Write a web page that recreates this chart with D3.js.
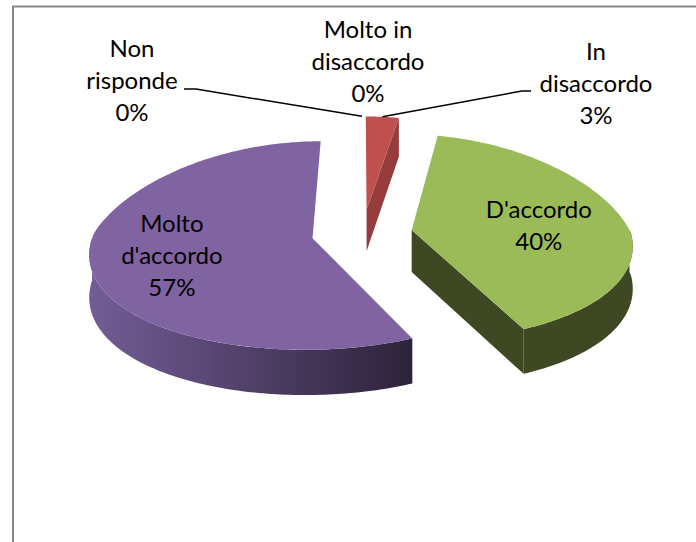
<!DOCTYPE html>
<html>
<head>
<meta charset="utf-8">
<script src="https://cdn.jsdelivr.net/npm/d3@7"></script>
<style>
body { margin: 0; background: #fff; }
svg { display: block; font-family: Lato, "Open Sans", sans-serif; }
</style>
</head>
<body>
<svg width="696" height="542"></svg>
<script>
// data
var categories = ["Molto in disaccordo", "In disaccordo", "D'accordo", "Molto d'accordo", "Non risponde"];
var values = [0, 3, 40, 57, 0];

// styles
var topColors = ["#4f81bd", "#c0504d", "#9bbb59", "#8064a2", "#4bacc6"];
var sideColors = [["#3b6190", "#2c4a6e"], ["#a54441", "#963d3b"], ["#414d25", "#3e4823"], ["#735d96", "#2e233b"], ["#3a8aa0", "#2b6a7c"]];

var width = 696, height = 542;

// 3d view
var cx = 362, cy = 233, rx = 219, ry = 103, depth = 42, explode = 0.23;
var perspFarX = 0.2, perspNearX = 0.13, perspY = 0.07;
var fontSize = 24, lineH = 32;

// outside labels (placed by hand in the original, with leaders)
var outside = {
	"Molto in disaccordo": {x: 368, y: 38, leader: null},
	"Non risponde": {x: 132, y: 57, leader: [[184, 89], [196, 89]]},
	"In disaccordo": {x: 596, y: 60, leader: [[531, 91], [522, 91]]}
};

var svg = d3.select("svg");
var defs = svg.append("defs");

function project(X, Z, h) {
	var px = 1 / (1 - (Z < 0 ? perspFarX : perspNearX) * Z);
	var py = 1 / (1 - perspY * Z);
	return [cx + rx * X * px, cy + ry * Z * py + depth * h * py];
}

var pie = d3.pie().sort(null).value(function(d) { return d; });
var arcs = pie(values);
var total = d3.sum(values);
var pct = d3.format(".0%");

arcs.forEach(function(a, i) {
	var mid = (a.startAngle + a.endAngle) / 2;
	a.i = i;
	a.mid = mid;
	a.ox = explode * Math.sin(mid);
	a.oz = -explode * Math.cos(mid);
});

function pt(a, ang, r, h) {
	return project(a.ox + r * Math.sin(ang), a.oz - r * Math.cos(ang), h);
}

function rim(a, a0, a1, h) {
	var n = Math.max(2, Math.ceil((a1 - a0) / (Math.PI / 180)));
	return d3.range(n + 1).map(function(k) { return pt(a, a0 + (a1 - a0) * k / n, 1, h); });
}

var poly = d3.line().curve(d3.curveLinearClosed);

// far slices first
var drawn = arcs.filter(function(a) { return a.value > 0; })
	.sort(function(a, b) { return a.oz - b.oz; });

var g = svg.append("g");

drawn.forEach(function(a) {
	var gid = "side" + a.i;
	var lg = defs.append("linearGradient").attr("id", gid)
		.attr("gradientUnits", "userSpaceOnUse")
		.attr("x1", cx - rx * 1.25).attr("x2", cx + rx * 0.22).attr("y1", 0).attr("y2", 0);
	lg.append("stop").attr("offset", 0).attr("stop-color", a.i === 3 ? sideColors[a.i][0] : sideColors[a.i][1]);
	lg.append("stop").attr("offset", 1).attr("stop-color", sideColors[a.i][1]);

	var sg = g.append("g");

	// outer wall, front half only
	var s0 = Math.max(a.startAngle, Math.PI / 2), s1 = Math.min(a.endAngle, 3 * Math.PI / 2);
	if (s1 > s0) {
		var topR = rim(a, s0, s1, 0), botR = rim(a, s0, s1, 1).reverse();
		sg.append("path").attr("d", poly(topR.concat(botR))).attr("fill", "url(#" + gid + ")");
	}
	// radial faces that turn towards us
	var faces = [];
	if (Math.sin(a.startAngle) < -1e-6) faces.push(a.startAngle);
	if (Math.sin(a.endAngle) > 1e-6) faces.push(a.endAngle);
	faces.forEach(function(ang) {
		sg.append("path")
			.attr("d", poly([pt(a, ang, 0, 0), pt(a, ang, 1, 0), pt(a, ang, 1, 1), pt(a, ang, 0, 1)]))
			.attr("fill", sideColors[a.i][1]);
	});

	// top face
	var top = [pt(a, 0, 0, 0)].concat(rim(a, a.startAngle, a.endAngle, 0));
	sg.append("path").attr("d", poly(top)).attr("fill", topColors[a.i]);
});

// greedy wrap like the original labels
var measure = svg.append("text").attr("font-size", fontSize).attr("visibility", "hidden");
function wrap(s, maxW) {
	var words = s.split(" "), lines = [], cur = "";
	words.forEach(function(w) {
		var t = cur ? cur + " " + w : w;
		measure.text(t);
		if (cur && measure.node().getComputedTextLength() > maxW) { lines.push(cur); cur = w; }
		else cur = t;
	});
	lines.push(cur);
	return lines;
}

function writeLabel(lines, x, y0) {
	var t = svg.append("text").attr("text-anchor", "middle").attr("font-size", fontSize).attr("fill", "#000");
	lines.forEach(function(l, k) {
		t.append("tspan").attr("x", x).attr("y", y0 + k * lineH).text(l);
	});
}

arcs.forEach(function(a) {
	var lines = wrap(categories[a.i], 125);
	lines.push(pct(a.value / total));
	var o = outside[categories[a.i]];
	if (o) {
		if (o.leader) {
			var end = pt(a, a.mid, 1, 0);
			svg.append("path")
				.attr("d", d3.line()(o.leader.concat([end])))
				.attr("fill", "none").attr("stroke", "#000").attr("stroke-width", 1.5);
		}
		writeLabel(lines, o.x, o.y);
	} else {
		var c = pt(a, a.mid, 0.62, 0);
		writeLabel(lines, c[0] - 4, c[1] - (lines.length - 1) * lineH / 2 + fontSize * 0.5);
	}
});
measure.remove();

// chart area border (cut off at right and bottom)
svg.append("path")
	.attr("d", "M13," + height + "V6.5H" + width)
	.attr("fill", "none").attr("stroke", "#878787").attr("stroke-width", 2);
</script>
</body>
</html>
